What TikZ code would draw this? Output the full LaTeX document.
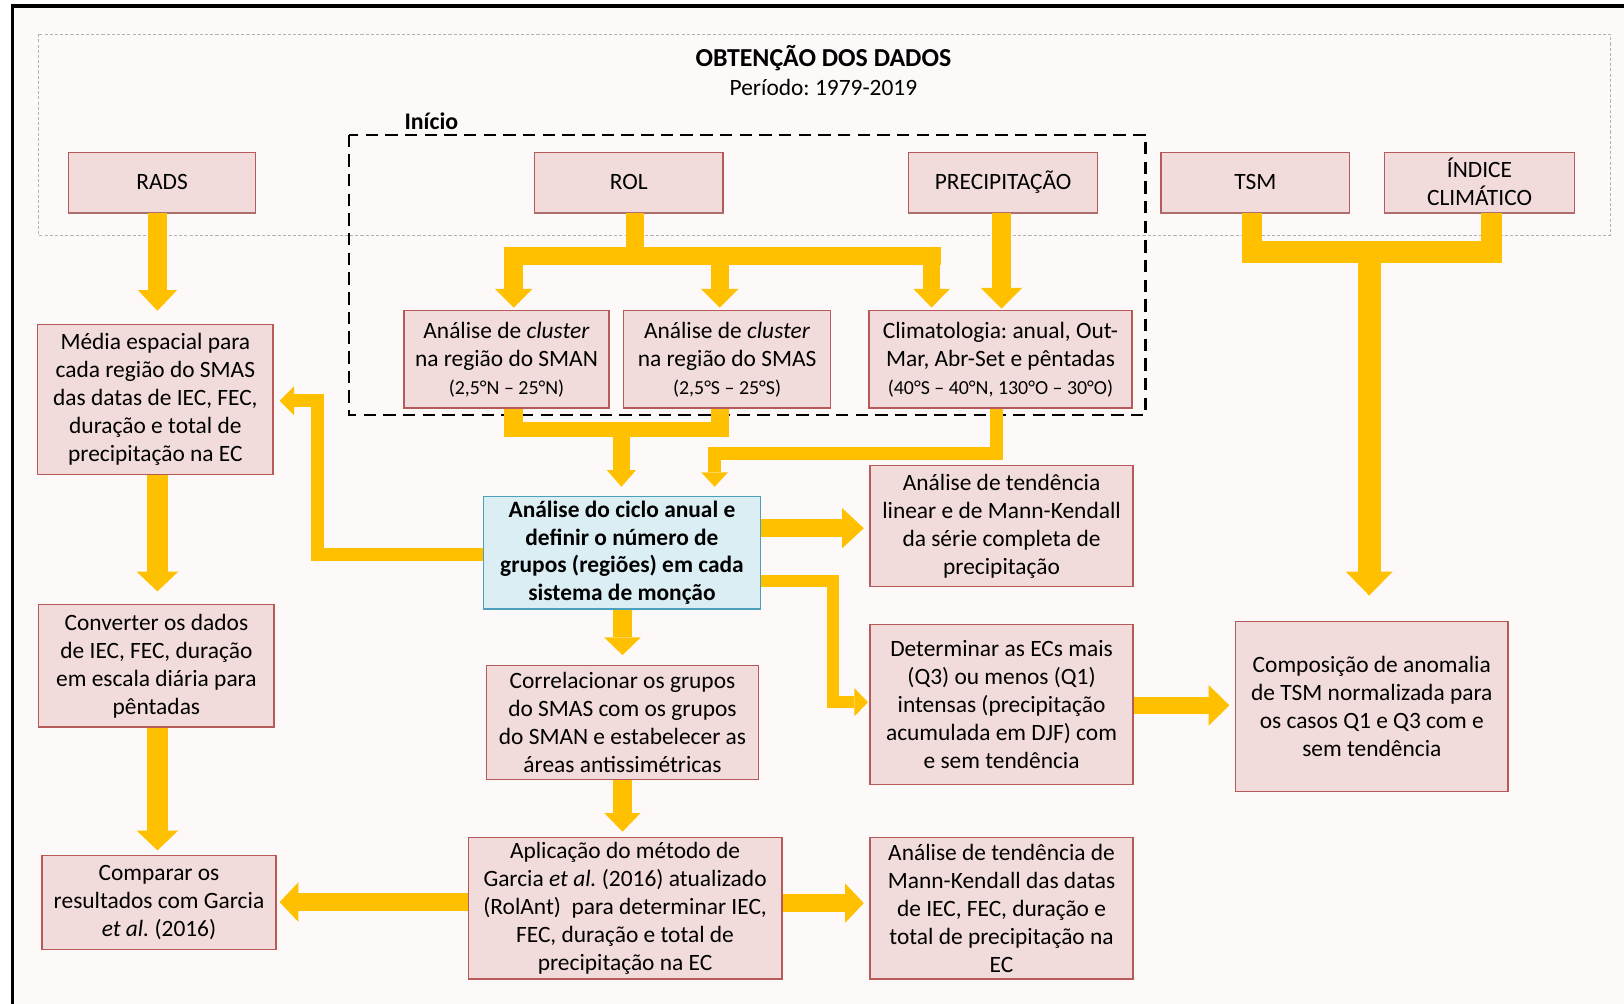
\documentclass[tikz,border=0pt]{standalone}
\usepackage{fontspec}
\setmainfont{Carlito}
\usetikzlibrary{arrows.meta,calc}
\definecolor{yel}{HTML}{FFC000}
\definecolor{bgc}{HTML}{FDF9F8}
\definecolor{boxfill}{HTML}{F2DCDB}
\definecolor{boxline}{HTML}{B65A5A}
\definecolor{bluefill}{HTML}{DAEEF3}
\definecolor{blueline}{HTML}{4BA0BD}
\definecolor{shadowc}{HTML}{AE6E6E}
\frenchspacing
\begin{document}
\begin{tikzpicture}[x=0.5pt,y=-0.5pt,
 box/.style={draw=boxline,line width=0.6pt,fill=boxfill,align=center,inner sep=1pt,font=\fontsize{11.3}{13.5}\selectfont},
 bluebox/.style={box,draw=blueline,fill=bluefill,font=\fontsize{11.3}{13.5}\selectfont\bfseries},
 sz/.style 2 args={minimum width=#1,minimum height=#2},
 ya/.style n args={3}{draw=yel,line width=#1,-{Triangle[width=#2,length=#3,line width=0pt]}},
 yb/.style={draw=yel,line width=#1},
 topshadow/.style={draw=shadowc,line width=1.2pt}]

\useasboundingbox (0,0) rectangle (1568,969);
\fill[white] (0,0) rectangle (1568,969);
\fill[bgc] (12,6) rectangle (1568,969);
\draw[line width=1.8pt] (12,975) -- (12,6) -- (1575,6);

% dashed frames
\draw[gray!60,line width=0.5pt,dash pattern=on 1.5pt off 1pt] (37,33) rectangle (1555,227);
\draw[black,line width=1pt,dash pattern=on 6pt off 3.5pt] (337,130) rectangle (1106,401);

% titles
\node[font=\fontsize{12.5}{15}\selectfont\bfseries] (title) at (795,56) {OBTENÇÃO DOS DADOS};
\node[font=\fontsize{11.3}{14}\selectfont] (period) at (795,84) {Período: 1979-2019};
\node[font=\fontsize{11.5}{14}\selectfont\bfseries] (inicio) at (416.5,117) {Início};

% top row
\node[box,sz={90.5pt}{29pt}] (rads) at (156.5,176) {RADS};
\node[box,sz={91pt}{29pt}] (rol) at (607,176) {ROL};
\node[box,sz={91.5pt}{29pt}] (precip) at (968.5,176) {PRECIPITAÇÃO};
\node[box,sz={91pt}{29pt}] (tsm) at (1212,176) {TSM};
\node[box,sz={91.5pt}{29pt}] (indice) at (1428.5,176) {ÍNDICE\\CLIMÁTICO};
\foreach \n in {rads,rol,precip,tsm,indice}
  \draw[topshadow] (\n.south west) -- (\n.south east);

% second row
\node[box,sz={99pt}{47pt}] (sman) at (489,347) {Análise de \textit{cluster}\\na região do SMAN\\{\fontsize{9.6}{11}\selectfont (2,5°N – 25°N)}};
\node[box,sz={100pt}{47pt}] (smas) at (702,347) {Análise de \textit{cluster}\\na região do SMAS\\{\fontsize{9.6}{11}\selectfont (2,5°S – 25°S)}};
\node[box,sz={127pt}{47pt}] (clim) at (966,347) {Climatologia: anual, Out-\\Mar, Abr-Set e pêntadas\\{\fontsize{9.6}{11}\selectfont (40°S – 40°N, 130°O – 30°O)}};

% left column
\node[box,sz={113.5pt}{72.5pt}] (media) at (150,385.5) {Média espacial para\\cada região do SMAS\\das datas de IEC, FEC,\\duração e total de\\precipitação na EC};
\node[box,sz={113.5pt}{59pt}] (conv) at (151,643) {Converter os dados\\de IEC, FEC, duração\\em escala diária para\\pêntadas};
\node[box,sz={113pt}{45.5pt}] (comp) at (153.5,871.5) {Comparar os\\resultados com Garcia\\\textit{et al.} (2016)};

% centre column
\node[bluebox,sz={133.5pt}{54.25pt}] (blue) at (600.5,533.7) {Análise do ciclo anual e\\definir o número de\\grupos (regiões) em cada\\sistema de monção};
\node[box,sz={131.5pt}{55pt}] (corr) at (601,697.6) {Correlacionar os grupos\\do SMAS com os grupos\\do SMAN e estabelecer as\\áreas antissimétricas};
\node[box,sz={151.5pt}{68.25pt}] (apl) at (603.5,877) {Aplicação do método de\\Garcia \textit{et al.} (2016) atualizado\\(RolAnt)\ \ para determinar IEC,\\FEC, duração e total de\\precipitação na EC};

% right column
\node[box,sz={127pt}{58.5pt}] (tend1) at (967,508) {Análise de tendência\\linear e de Mann-Kendall\\da série completa de\\precipitação};
\node[box,sz={127pt}{77.25pt}] (det) at (967,680) {Determinar as ECs mais\\(Q3) ou menos (Q1)\\intensas (precipitação\\acumulada em DJF) com\\e sem tendência};
\node[box,sz={127pt}{68.25pt}] (mk) at (967,877) {Análise de tendência de\\Mann-Kendall das datas\\de IEC, FEC, duração e\\total de precipitação na\\EC};
\node[box,sz={131.5pt}{82pt}] (compo) at (1324.5,682) {Composição de anomalia\\de TSM normalizada para\\os casos Q1 e Q3 com e\\sem tendência};

% ---------- connectors ----------
% RADS -> Media
\coordinate (tA) at (152,300);
\draw[ya={9pt}{19pt}{10pt}] (rads.south -| tA) -- (tA);

% ROL -> three boxes
\coordinate (rj) at (613,247);
\coordinate (rbL) at (487,247);
\coordinate (rbR) at (908.5,247);
\draw[yb=8.5pt] (rol.south -| rj) -- (rj);
\draw[yb=9pt] (rbL) -- (rbR);
\coordinate (tB1) at (496,297);
\coordinate (tB2) at (695,297);
\coordinate (tB3) at (899.5,297);
\draw[ya={9pt}{18pt}{9pt}] (tB1 |- rj) -- (tB1);
\draw[ya={9pt}{18pt}{9pt}] (tB2 |- rj) -- (tB2);
\draw[ya={8.5pt}{17.5pt}{9pt}] (tB3 |- rj) -- (tB3);

% PRECIPITACAO -> Climatologia
\coordinate (tC) at (967,298);
\draw[ya={9.5pt}{20pt}{10pt}] (precip.south -| tC) -- (tC);

% TSM + INDICE -> Composicao
\coordinate (sj1) at (1209,254);
\coordinate (sj2) at (1440,254);
\coordinate (sbL) at (1199.5,243.5);
\coordinate (sbR) at (1450,243.5);
\draw[yb=9.5pt] (tsm.south -| sj1) -- (sj1);
\draw[yb=10pt] (indice.south -| sj2) -- (sj2);
\draw[yb=10.5pt] (sbL) -- (sbR);
\coordinate (tD) at (1322,575);
\draw[ya={11pt}{22.5pt}{11.5pt}] (tD |- sbL) -- (tD);

% clusters -> blue
\coordinate (cj1) at (496,422);
\coordinate (cj2) at (695,422);
\coordinate (cbL) at (487,414.5);
\coordinate (cbR) at (704,414.5);
\draw[yb=9pt] (sman.south -| cj1) -- (cj1);
\draw[yb=9pt] (smas.south -| cj2) -- (cj2);
\draw[yb=7.5pt] (cbL) -- (cbR);
\coordinate (tE) at (600,470);
\draw[ya={8.5pt}{14pt}{8pt}] (tE |- cbL) -- (tE);

% climatologia -> blue
\coordinate (fj1) at (962,438);
\coordinate (tF) at (690,470);
\draw[ya={6pt}{13pt}{7pt}] (clim.south -| fj1) -- (fj1) -- (fj1 -| tF) -- (tF);

% blue -> media
\coordinate (gj1) at (307,535);
\coordinate (tG) at (270,387);
\draw[ya={6.25pt}{14pt}{7pt}] (blue.west |- gj1) -- (gj1) -- (gj1 |- tG) -- (tG);

% blue -> tendencia linear
\coordinate (tH) at (834,510);
\draw[ya={8.5pt}{19.5pt}{10.5pt}] (blue.east |- tH) -- (tH);

% blue -> determinar
\coordinate (ij1) at (804,561);
\coordinate (tI) at (838,678);
\draw[ya={6pt}{13.5pt}{6.5pt}] (blue.east |- ij1) -- (ij1) -- (ij1 |- tI) -- (tI);

% determinar -> composicao
\coordinate (tJ) at (1187,681);
\draw[ya={8.5pt}{19.5pt}{10pt}] (det.east |- tJ) -- (tJ);

% blue -> correlacionar
\coordinate (tK) at (601,632.5);
\draw[ya={9pt}{17.5pt}{8.5pt}] (blue.south -| tK) -- (tK);

% correlacionar -> aplicacao
\coordinate (tL) at (601,803);
\draw[ya={9pt}{17.5pt}{9pt}] (corr.south -| tL) -- (tL);

% media -> converter
\coordinate (tM) at (152,571);
\draw[ya={10pt}{20pt}{9.5pt}] (media.south -| tM) -- (tM);

% converter -> comparar
\coordinate (tN) at (152,821);
\draw[ya={10pt}{20pt}{9.5pt}] (conv.south -| tN) -- (tN);

% aplicacao -> comparar
\coordinate (tO) at (270,871);
\draw[ya={9pt}{19pt}{9pt}] (apl.west |- tO) -- (tO);

% aplicacao -> mann-kendall
\coordinate (tP) at (834,872);
\draw[ya={9pt}{19pt}{9pt}] (apl.east |- tP) -- (tP);
\end{tikzpicture}
\end{document}
